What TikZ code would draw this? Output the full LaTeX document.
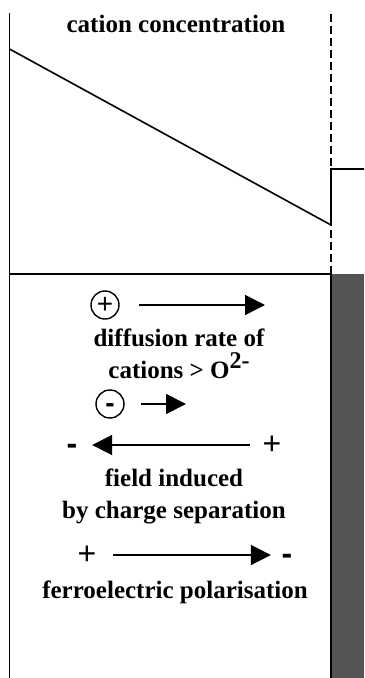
\documentclass[tikz,border=0pt]{standalone}
\usepackage{fontspec}
\setmainfont{Liberation Serif}
\setsansfont{Liberation Sans}
\usetikzlibrary{arrows.meta}
\tikzset{
  lbl/.style={font=\bfseries\fontsize{12.5}{16}\selectfont, align=center, inner sep=0pt, anchor=base},
  sgn/.style={font=\sffamily\fontsize{16}{16}\selectfont, inner sep=0pt},
  ion/.style={circle, draw, line width=0.7pt, minimum size=14pt, inner sep=0pt, font=\sffamily\fontsize{14}{14}\selectfont},
  arr/.style={line width=0.8pt, -{Triangle[length=10pt,width=10pt]}},
}
\begin{document}
\begin{tikzpicture}[x=0.5pt,y=-0.5pt,line width=0.8pt]
\useasboundingbox (0,0) rectangle (364,678);
% frame
\fill[black!67] (331,274) rectangle (364,678);
\draw (9.5,13)--(9.5,678);
\draw (9.5,274)--(331,274)--(331,678);
\draw[dash pattern=on 4pt off 2pt] (331,14)--(331,274);
% concentration profile
\draw (9.5,49)--(331,225)--(331,169)--(364,169);
\node[lbl] (conc) at (176,33) {cation concentration};

\node[ion] (cat) at (105,305) {+};
\coordinate (catend) at (265,305);
\draw[arr, shorten <=9.5pt] (cat.east)--(catend);
\node[lbl] (rate) at (179,378) {diffusion rate of\\cations > O\raisebox{0.4em}{\fontsize{12}{12}\selectfont 2-}};

\node[ion] (an) at (110,404) {\bfseries\vphantom{+}-};
\coordinate (anend) at (186,404);
\draw[arr, shorten <=8pt] (an.east)--(anend);

\node[sgn] (fminus) at (72,445) {\bfseries\vphantom{+}-};
\node[sgn] (fplus) at (272,445) {+};
\draw[arr, shorten <=6pt, shorten >=7pt] (fplus.west)--(fminus.east);
\node[lbl] (field) at (174,518) {field induced\\by charge separation};

\node[sgn] (pplus) at (87,555) {+};
\node[sgn] (pminus) at (287,555) {\bfseries\vphantom{+}-};
\draw[arr, shorten <=8pt, shorten >=5pt] (pplus.east)--(pminus.west);
\node[lbl] (pol) at (175,598) {ferroelectric polarisation};
\end{tikzpicture}
\end{document}
